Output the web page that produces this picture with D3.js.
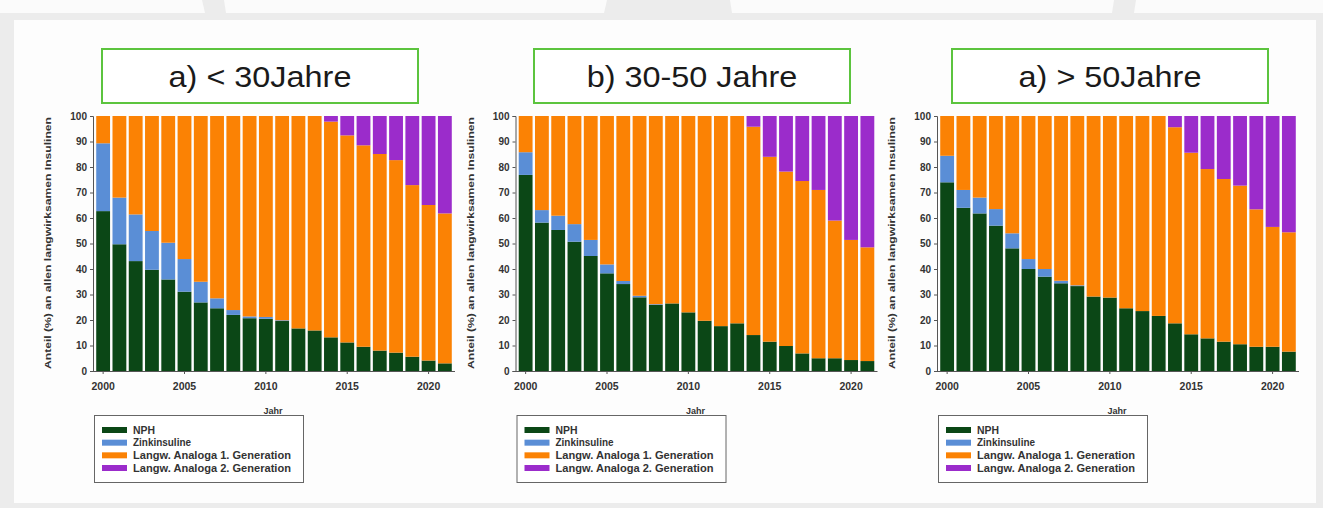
<!DOCTYPE html>
<html><head><meta charset="utf-8">
<script src="https://cdn.jsdelivr.net/npm/d3@7/dist/d3.min.js"></script>
<style>
html,body{margin:0;padding:0;background:#efefef;}
svg{display:block;font-family:"Liberation Sans",Arial,sans-serif;}
</style></head>
<body>
<svg id="chart" width="1323" height="508"></svg>
<script>
// ---- data ----
const years = [2000,2001,2002,2003,2004,2005,2006,2007,2008,2009,2010,2011,2012,2013,2014,2015,2016,2017,2018,2019,2020,2021];
const xTickYears = [2000,2005,2010,2015,2020];
const yTicks = [0,10,20,30,40,50,60,70,80,90,100];
const seriesNames = ["NPH","Zinkinsuline","Langw. Analoga 1. Generation","Langw. Analoga 2. Generation"];
const panelTitles = ["a) < 30Jahre","b) 30-50 Jahre","a) > 50Jahre"];
const xLabel = "Jahr";
const yLabel = "Anteil (%) an allen langwirksamen Insulinen";

// a) < 30 Jahre
const nph1   = [62.7,49.7,43.1,39.7,35.9,31.1,26.9,24.6,22.0,20.7,20.5,19.6,16.7,15.9,13.2,11.2,9.5,8.0,7.2,5.6,4.1,3.0];
const zink1  = [26.6,18.3,18.3,15.2,14.4,12.8,8.1,3.9,1.9,0.7,0.7,0.3,0,0,0,0,0,0,0,0,0,0];
const ana1_1 = [10.7,32.0,38.6,45.1,49.7,56.1,65.0,71.5,76.1,78.6,78.8,80.1,83.3,84.1,84.6,81.2,79.0,77.1,75.5,67.3,61.0,58.8];
const ana2_1 = [0,0,0,0,0,0,0,0,0,0,0,0,0,0,2.2,7.6,11.5,14.9,17.3,27.1,34.9,38.2];
// b) 30-50 Jahre
const nph2   = [76.9,58.2,55.3,50.7,45.1,38.3,34.1,28.9,25.9,26.5,23.0,19.7,17.6,18.7,14.1,11.5,9.8,6.9,5.0,5.0,4.3,3.9];
const zink2  = [8.9,4.9,5.6,6.9,6.3,3.5,1.2,0.6,0.3,0,0,0,0,0,0,0,0,0,0,0,0,0];
const ana1_2 = [14.2,36.9,39.1,42.4,48.6,58.2,64.7,70.5,73.8,73.5,77.0,80.3,82.4,81.3,81.7,72.5,68.4,67.6,66.0,54.0,47.1,44.6];
const ana2_2 = [0,0,0,0,0,0,0,0,0,0,0,0,0,0,4.2,16.0,21.8,25.5,29.0,41.0,48.6,51.5];
// a) > 50 Jahre
const nph3   = [74.0,64.0,61.8,57.0,48.1,40.0,37.0,34.4,33.3,29.2,28.8,24.6,23.5,21.6,18.7,14.4,12.8,11.5,10.5,9.5,9.5,7.6];
const zink3  = [10.4,7.0,6.2,6.5,5.9,3.9,3.0,1.0,0.3,0,0,0,0,0,0,0,0,0,0,0,0,0];
const ana1_3 = [15.6,29.0,32.0,36.5,46.0,56.1,60.0,64.6,66.4,70.8,71.2,75.4,76.5,78.4,76.9,71.2,66.4,63.8,62.2,53.9,47.0,46.8];
const ana2_3 = [0,0,0,0,0,0,0,0,0,0,0,0,0,0,4.4,14.4,20.8,24.7,27.3,36.6,43.5,45.6];

const panelsData = [
  [nph1,zink1,ana1_1,ana2_1],
  [nph2,zink2,ana1_2,ana2_2],
  [nph3,zink3,ana1_3,ana2_3]
];

// ---- styles ----
const colors = ["#0b4716","#5a8ed6","#fb8204","#9b2ccb"];
const svg = d3.select("#chart");

// background / card
svg.append("rect").attr("x",0).attr("y",0).attr("width",1323).attr("height",508).attr("fill","#ececec");
const topWhite = [
  [[0,0],[202,0],[205,13],[0,13]],
  [[224,0],[607,0],[604,13],[226,13]],
  [[730,0],[1114,0],[1112,13],[732,13]],
  [[1136,0],[1323,0],[1323,13],[1134,13]]
];
topWhite.forEach(p=>svg.append("polygon").attr("points",p.map(d=>d.join(",")).join(" ")).attr("fill","#fbfbfb"));
svg.append("rect").attr("x",14).attr("y",20).attr("width",1302).attr("height",483).attr("fill","#fdfdfd");

const panelX = [0,422.5,844];
const titleBoxX = [102,534,952];
const y = d3.scaleLinear().domain([0,100]).range([371,116]);

panelsData.forEach((series,pi)=>{
  const ox = panelX[pi];
  const g = svg.append("g").attr("transform",`translate(${ox},0)`);
  const x = d3.scaleBand().domain(years).range([95,453]).paddingInner(0.15).paddingOuter(0.075);

  const rows = years.map((yr,i)=>{const r={year:yr}; seriesNames.forEach((s,k)=>r[s]=series[k][i]); return r;});
  const stack = d3.stack().keys(seriesNames)(rows);

  g.selectAll("g.layer").data(stack).join("g").attr("class","layer")
    .attr("fill",(d,k)=>colors[k])
    .selectAll("rect").data(d=>d).join("rect")
    .attr("x",d=>x(d.data.year)).attr("width",x.bandwidth())
    .attr("y",d=>y(d[1])).attr("height",d=>Math.max(0,y(d[0])-y(d[1])));

  // axes
  const ya = g.append("g").attr("transform","translate(93,0)")
    .call(d3.axisLeft(y).tickValues(yTicks).tickSize(3).tickPadding(3));
  ya.select(".domain").attr("stroke","#555");
  ya.selectAll(".tick line").attr("stroke","#555");
  ya.selectAll("text").attr("font-size",10).attr("font-weight","bold").attr("fill","#333");

  const xa = g.append("g").attr("transform","translate(0,371)")
    .call(d3.axisBottom(x).tickValues(xTickYears).tickSize(3).tickPadding(9));
  xa.select(".domain").attr("stroke","#555").attr("d","M93,0.5H455");
  xa.selectAll(".tick line").attr("stroke","#555");
  xa.selectAll("text").attr("font-size",10.5).attr("font-weight","bold").attr("fill","#333");

  // y label
  g.append("text").attr("transform","translate(51,243) rotate(-90)")
    .attr("text-anchor","middle").attr("font-size",9.5).attr("font-weight","bold").attr("fill","#333")
    .attr("textLength",252).attr("lengthAdjust","spacingAndGlyphs").text(yLabel);

  // x label
  g.append("text").attr("x",273).attr("y",414).attr("text-anchor","middle")
    .attr("font-size",9).attr("font-weight","bold").attr("fill","#333").text(xLabel);

  // legend
  const lg = g.append("g");
  lg.append("rect").attr("x",94.5).attr("y",415.5).attr("width",209).attr("height",67)
    .attr("fill","#fff").attr("stroke","#666").attr("stroke-width",1);
  const rowY = d3.scalePoint().domain(seriesNames).range([430,468]);
  seriesNames.forEach((s,k)=>{
    lg.append("rect").attr("x",102).attr("y",rowY(s)-3).attr("width",25).attr("height",6).attr("fill",colors[k]);
    lg.append("text").attr("x",133).attr("y",rowY(s)+3.5).attr("font-size",10).attr("font-weight","bold")
      .attr("fill","#333").attr("textLength",s.length>15?158:(s==="NPH"?22:58)).attr("lengthAdjust","spacingAndGlyphs").text(s);
  });

  // title box (absolute x)
  const tb = svg.append("g");
  const bx = titleBoxX[pi];
  tb.append("rect").attr("x",bx).attr("y",49).attr("width",316).attr("height",54)
    .attr("fill","#fff").attr("stroke","#5cc43e").attr("stroke-width",2);
  tb.append("text").attr("transform",`translate(${bx+158},87) scale(1.08,1)`)
    .attr("text-anchor","middle").attr("font-size",30).attr("fill","#1a1a1a").text(panelTitles[pi]);
});
</script>
</body></html>
